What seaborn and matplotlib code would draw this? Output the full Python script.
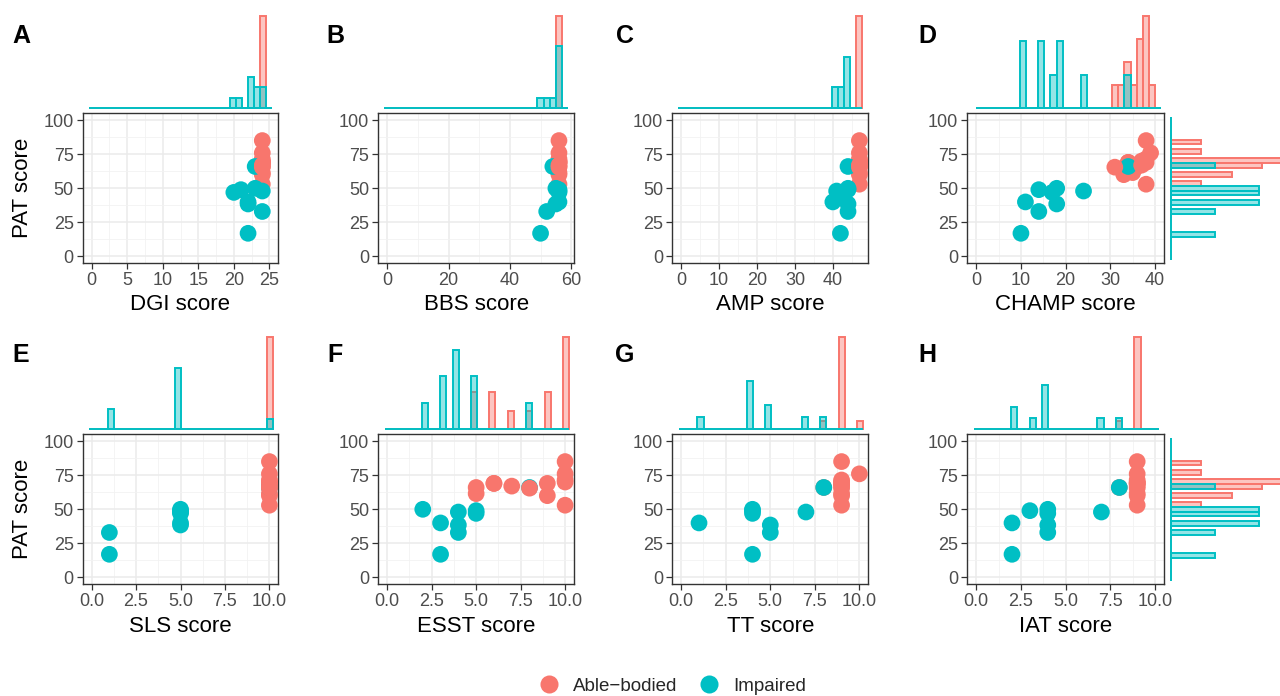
import numpy as np
import pandas as pd
import matplotlib
matplotlib.use("Agg")
import matplotlib.pyplot as plt
from matplotlib.colors import to_rgba
from matplotlib.lines import Line2D
import seaborn as sns

# ---------------- data (one row per participant, in drawing order) ----------------
group = (["Able-bodied"] * 11) + (["Impaired"] * 9) + (["Able-bodied"] * 2)
pat = [53, 60, 61.5, 66, 69, 69, 69, 70, 71.5, 76, 85,
       17, 33, 38.5, 40, 47, 48, 49, 50, 66,
       65.5, 67]
dgi = [24] * 11 + [22, 24, 22, 22, 20, 24, 21, 23, 23] + [24, 24]
bbs = [56] * 11 + [50, 52, 55, 56, 56, 56, 56, 55, 54] + [56, 56]
amp = [47] * 11 + [42, 44, 44, 40, 42, 41, 44, 44, 44] + [47, 47]
champ = [38, 33, 35, 36, 34, 34, 38, 37, 38, 39, 38,
         10, 14, 18, 11, 17, 24, 14, 18, 34,
         31, 37]
sls = [10] * 11 + [1, 1, 5, 5, 5, 5, 5, 5, 10] + [10, 10]
esst = [10, 9, 5, 5, 6, 6, 9, 10, 10, 10, 10,
        3, 4, 4, 3, 5, 4, 5, 2, 8,
        8, 7]
tt = [9, 9, 9, 8, 9, 9, 9, 9, 9, 10, 9,
      4, 5, 5, 1, 4, 7, 4, 4, 8,
      9, 9]
iat = [9, 9, 9, 8, 9, 9, 9, 9, 9, 9, 9,
       2, 4, 4, 2, 4, 7, 3, 4, 8,
       9, 9]

hue_order = ["Able-bodied", "Impaired"]
legend_labels = ["Able\u2212bodied", "Impaired"]
palette = {"Able-bodied": "#F8766D", "Impaired": "#00BFC4"}

df = pd.DataFrame({"group": group, "PAT": pat, "DGI": dgi, "BBS": bbs, "AMP": amp,
                   "CHAMP": champ, "SLS": sls, "ESST": esst, "TT": tt, "IAT": iat})

ten_ticks = [0, 2.5, 5, 7.5, 10]
ten_labels = ["0.0", "2.5", "5.0", "7.5", "10.0"]
# letter, column, axis title, base x max, ticks, tick labels, bin shift
panels = [
    ("A", "DGI", "DGI score", 25, [0, 5, 10, 15, 20, 25], None, 0.0),
    ("B", "BBS", "BBS score", 58, [0, 20, 40, 60], None, -0.01),
    ("C", "AMP", "AMP score", 47, [0, 10, 20, 30, 40], None, 0.0),
    ("D", "CHAMP", "CHAMP score", 40, [0, 10, 20, 30, 40], None, 0.734),
    ("E", "SLS", "SLS score", 10, ten_ticks, ten_labels, 0.05),
    ("F", "ESST", "ESST score", 10, ten_ticks, ten_labels, 0.05),
    ("G", "TT", "TT score", 10, ten_ticks, ten_labels, 0.05),
    ("H", "IAT", "IAT score", 10, ten_ticks, ten_labels, 0.05),
]
y_ticks = [0, 25, 50, 75, 100]
pat_edges = np.arange(-16, 16) * 3.4 + 51.6

# ---------------- style ----------------
sns.set_style("white")
plt.rcParams["font.family"] = ["Liberation Sans", "DejaVu Sans"]

W, H = 1280, 696
fig = plt.figure(figsize=(W / 100, H / 100), dpi=100)


def rect(x0, x1, ytop, ybot):
    return [x0 / W, 1 - ybot / H, (x1 - x0) / W, (ybot - ytop) / H]


col_x = [(82.7, 278.3), (378.3, 574.0), (672.3, 868.3), (967.3, 1164.0)]
row_main = [(113.3, 263.3), (434.3, 584.3)]
row_marg = [(15.7, 108.0), (337.3, 429.0)]
row_xlab = [305, 626]
row_letter = [36, 355]
letter_x = [21, 335, 625, 927]


def style_hist(ax, start, color):
    for p in ax.patches[start:]:
        p.set_facecolor(to_rgba(color, 0.42))
        p.set_edgecolor(color)
        p.set_linewidth(1.4)
        p.set_alpha(None)


for i, (letter, col, title, xmax, ticks, tlabels, shift) in enumerate(panels):
    r, c = divmod(i, 4)
    x0, x1 = col_x[c]
    ytop, ybot = row_main[r]
    xlim = (-0.05 * xmax, 1.05 * xmax)

    # main scatter
    ax = fig.add_axes(rect(x0, x1, ytop, ybot))
    sns.scatterplot(data=df, x=col, y="PAT", hue="group", hue_order=hue_order,
                    palette=palette, s=145, linewidth=0, legend=False, ax=ax, zorder=3)
    ax.set_xlim(*xlim)
    ax.set_ylim(-5, 105)
    ax.set_xticks(ticks)
    if tlabels is not None:
        ax.set_xticklabels(tlabels)
    step = ticks[1] - ticks[0]
    ax.set_xticks([t + step / 2 for t in ticks[:-1]] +
                  ([ticks[-1] + step / 2] if ticks[-1] + step / 2 < xlim[1] else []), minor=True)
    ax.set_yticks(y_ticks)
    ax.set_yticks([12.5, 37.5, 62.5, 87.5], minor=True)
    ax.grid(which="major", color="#EBEBEB", lw=1.1, zorder=0)
    ax.grid(which="minor", color="#F2F2F2", lw=0.6, zorder=0)
    ax.set_axisbelow(True)
    for s in ax.spines.values():
        s.set_color("#333333")
        s.set_linewidth(1.0)
    ax.tick_params(which="major", length=4, width=0.9, color="#333333",
                   labelsize=13, labelcolor="#4D4D4D", pad=2.5, left=True, bottom=True)
    ax.tick_params(which="minor", length=0)
    ax.set_xlabel("")
    ax.set_ylabel("")

    # top marginal histogram
    w = xmax / 29.0
    edges = (np.arange(31) - 0.5) * w + shift
    axm = fig.add_axes(rect(x0, x1, row_marg[r][0], row_marg[r][1]))
    for g in hue_order:
        n0 = len(axm.patches)
        sns.histplot(x=df.loc[df.group == g, col], bins=edges, stat="density",
                     color=palette[g], ax=axm)
        style_hist(axm, n0, palette[g])
    axm.set_xlim(*xlim)
    top = max(p.get_height() for p in axm.patches)
    axm.set_ylim(0, top)
    axm.axis("off")
    for p in axm.patches:
        p.set_clip_on(False)

    # right marginal histogram (last column only)
    if c == 3:
        axr = fig.add_axes(rect(1170.7, 1323.0, ytop, ybot))
        for g in hue_order:
            n0 = len(axr.patches)
            sns.histplot(y=df.loc[df.group == g, "PAT"], bins=pat_edges, stat="density",
                         color=palette[g], ax=axr)
            style_hist(axr, n0, palette[g])
        axr.set_ylim(-5, 105)
        right = max(p.get_width() for p in axr.patches)
        axr.set_xlim(0, right)
        axr.axis("off")
        for p in axr.patches:
            p.set_clip_on(False)

    # texts
    fig.text((x0 + x1) / 2 / W, 1 - row_xlab[r] / H, title, ha="center", va="center",
             fontsize=16, color="black")
    fig.text(letter_x[c] / W, 1 - row_letter[r] / H, letter, ha="center", va="center",
             fontsize=18, fontweight="bold", color="black")
    if c == 0:
        fig.text(23 / W, 1 - (ytop + ybot) / 2 / H, "PAT score", rotation=90,
                 ha="center", va="center", fontsize=16, color="black")

# legend
handles = [Line2D([], [], marker="o", linestyle="", markersize=13, markeredgewidth=0,
                  color=palette[g]) for g in hue_order]
fig.legend(handles, legend_labels, loc="center", bbox_to_anchor=(670 / W, 1 - 686 / H),
           ncol=2, frameon=False, fontsize=13.5, handletextpad=0.5, columnspacing=0.9,
           handlelength=1.6)

fig.savefig("out.png", dpi=100)
